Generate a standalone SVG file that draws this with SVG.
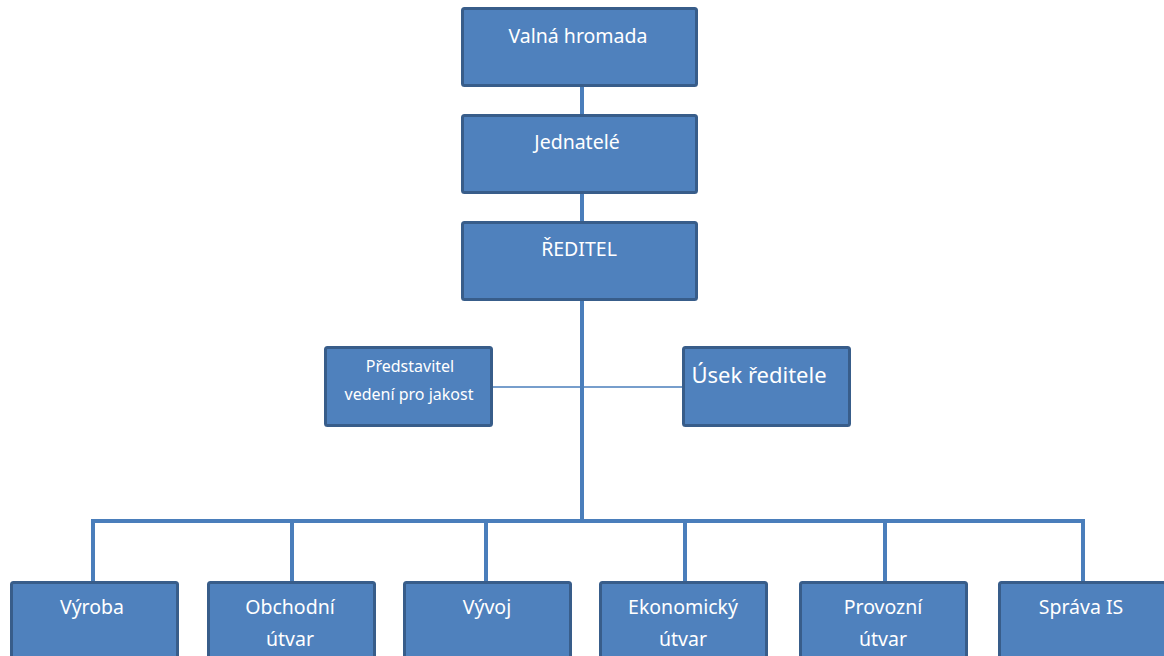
<svg xmlns="http://www.w3.org/2000/svg" width="1164" height="656" viewBox="0 0 1164 656">
  <style>
    .box { fill: #4F81BD; stroke: #385D8A; stroke-width: 3; }
    .lbl { fill: #FFFFFF; font-family: "Noto Sans", "Open Sans", "DejaVu Sans", sans-serif; font-size: 19.5px; text-anchor: middle; }
    .sm { font-size: 16px; }
    .lg { font-size: 22px; }
    .conn { fill: none; stroke: #4A7EBB; stroke-width: 4; }
    .thin { fill: none; stroke: #4A7EBB; stroke-width: 1.5; }
  </style>
  <rect width="1164" height="656" fill="#FFFFFF"/>

  <!-- connectors -->
  <g id="connectors">
    <line class="conn" x1="582" y1="86" x2="582" y2="115"/>
    <line class="conn" x1="582" y1="193" x2="582" y2="222"/>
    <line class="thin" x1="491" y1="387" x2="683" y2="387"/>
    <line class="conn" x1="582" y1="300" x2="582" y2="521"/>
    <polyline class="conn" points="93,582 93,521 1083,521 1083,582"/>
    <line class="conn" x1="292" y1="521" x2="292" y2="582"/>
    <line class="conn" x1="486" y1="521" x2="486" y2="582"/>
    <line class="conn" x1="685" y1="521" x2="685" y2="582"/>
    <line class="conn" x1="885" y1="521" x2="885" y2="582"/>
  </g>

  <!-- top chain -->
  <g id="valna-hromada">
    <rect class="box" x="462.5" y="8.5" width="234" height="77" rx="2"/>
    <text class="lbl" x="578" y="43">Valná hromada</text>
  </g>
  <g id="jednatele">
    <rect class="box" x="462.5" y="115.5" width="234" height="77" rx="2"/>
    <text class="lbl" x="577" y="149">Jednatelé</text>
  </g>
  <g id="reditel">
    <rect class="box" x="462.5" y="222.5" width="234" height="77" rx="2"/>
    <text class="lbl" x="579" y="256">ŘEDITEL</text>
  </g>

  <!-- staff units beside the director -->
  <g id="predstavitel">
    <rect class="box" x="325.5" y="347.5" width="166" height="78" rx="2"/>
    <text class="lbl sm" x="410" y="372">Představitel</text>
    <text class="lbl sm" x="409" y="400">vedení pro jakost</text>
  </g>
  <g id="usek-reditele">
    <rect class="box" x="683.5" y="347.5" width="166" height="78" rx="2"/>
    <text class="lbl lg" x="759" y="383">Úsek ředitele</text>
  </g>

  <!-- departments -->
  <g id="vyroba">
    <rect class="box" x="11.5" y="582.5" width="166" height="80" rx="2"/>
    <text class="lbl" x="92" y="614">Výroba</text>
  </g>
  <g id="obchodni-utvar">
    <rect class="box" x="208.5" y="582.5" width="166" height="80" rx="2"/>
    <text class="lbl" x="290" y="614">Obchodní</text>
    <text class="lbl" x="290" y="646">útvar</text>
  </g>
  <g id="vyvoj">
    <rect class="box" x="404.5" y="582.5" width="166" height="80" rx="2"/>
    <text class="lbl" x="487" y="614">Vývoj</text>
  </g>
  <g id="ekonomicky-utvar">
    <rect class="box" x="600.5" y="582.5" width="166" height="80" rx="2"/>
    <text class="lbl" x="683" y="614">Ekonomický</text>
    <text class="lbl" x="683" y="646">útvar</text>
  </g>
  <g id="provozni-utvar">
    <rect class="box" x="800.5" y="582.5" width="166" height="80" rx="2"/>
    <text class="lbl" x="883" y="614">Provozní</text>
    <text class="lbl" x="883" y="646">útvar</text>
  </g>
  <g id="sprava-is">
    <rect class="box" x="999.5" y="582.5" width="166" height="80" rx="2"/>
    <text class="lbl" x="1081" y="614">Správa IS</text>
  </g>
</svg>
